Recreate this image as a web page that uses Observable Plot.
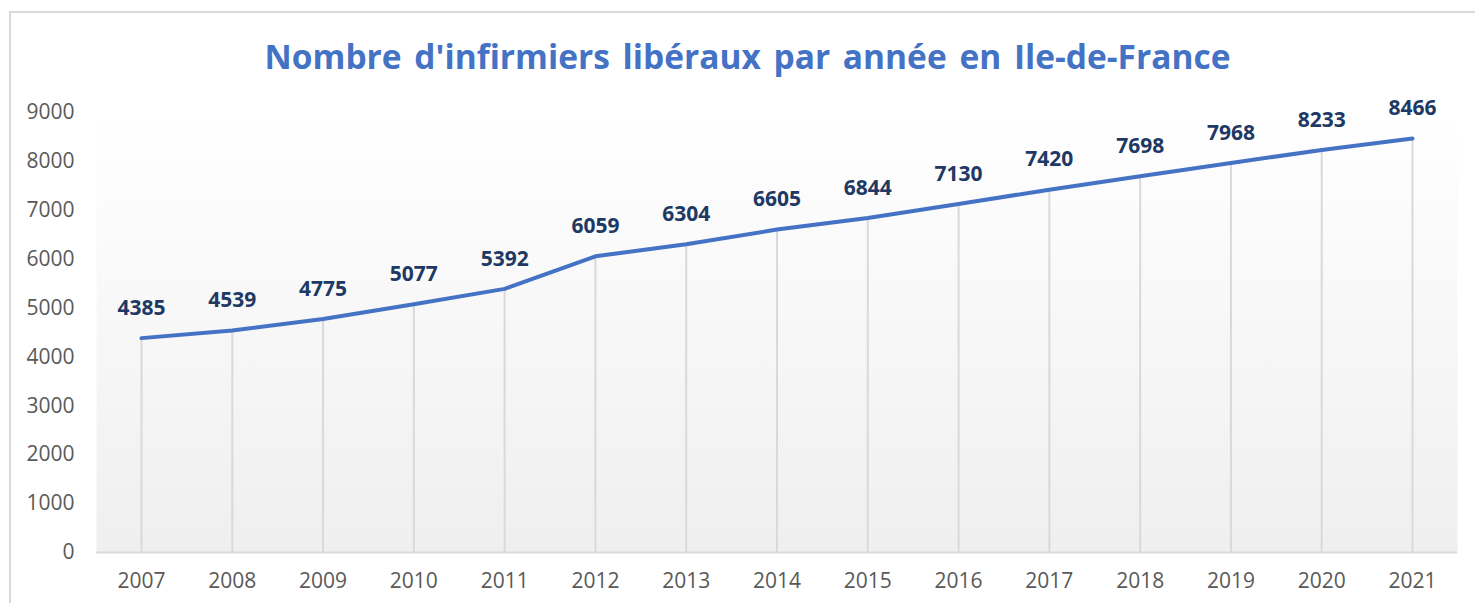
<!DOCTYPE html>
<html>
<head>
<meta charset="utf-8">
<script src="https://cdn.jsdelivr.net/npm/d3@7"></script>
<script src="https://cdn.jsdelivr.net/npm/@observablehq/plot@0.6"></script>
<style>
  html, body { margin: 0; padding: 0; background: #fff; }
  #wrap { position: relative; width: 1475px; height: 603px; overflow: hidden; }
  #border { position: absolute; left: 9px; top: 11px; width: 1500px; height: 700px; border: 2px solid #d9d9d9; box-sizing: border-box; }
  #title { position: absolute; left: 0; top: 33px; width: 1495px; text-align: center;
           font-family: "Open Sans", sans-serif; font-weight: 700; font-size: 33.5px; color: #4472C4; word-spacing: 4px; }
  #chart { position: absolute; left: 0; top: 0; }
</style>
</head>
<body>
<div id="wrap">
  <div id="border"></div>
  <div id="chart"></div>
  <div id="title">Nombre d'infirmiers libéraux par année en Ile-de-France</div>
</div>
<script>
const years = [2007, 2008, 2009, 2010, 2011, 2012, 2013, 2014, 2015, 2016, 2017, 2018, 2019, 2020, 2021];
const counts = [4385, 4539, 4775, 5077, 5392, 6059, 6304, 6605, 6844, 7130, 7420, 7698, 7968, 8233, 8466];
const yTicks = [0, 1000, 2000, 3000, 4000, 5000, 6000, 7000, 8000, 9000];

const data = years.map((y, i) => ({year: String(y), value: counts[i]}));

const chart = Plot.plot({
  width: 1475,
  height: 603,
  marginTop: 112,
  marginBottom: 51,
  marginLeft: 96,
  marginRight: 18,
  style: {fontFamily: "'Open Sans', sans-serif", fontSize: "21px", color: "#595959", background: "transparent"},
  x: {type: "point", domain: years.map(String), range: [141, 1412], padding: 0, round: false, label: null},
  y: {domain: [0, 9000], ticks: yTicks, label: null},
  marks: [
    Plot.frame({fill: "url(#bggrad)", stroke: null}),
    Plot.ruleX(data, {x: "year", y1: 0, y2: "value", stroke: "#d9d9d9", strokeWidth: 2}),
    Plot.ruleY([0], {stroke: "#d9d9d9", strokeWidth: 2}),
    Plot.line(data, {x: "year", y: "value", stroke: "#4472C4", strokeWidth: 4, strokeLinecap: "round", strokeLinejoin: "round"}),
    Plot.text(data, {x: "year", y: "value", text: d => String(d.value), dy: -30, fill: "#203864", fontWeight: "bold", fontSize: 21}),
    Plot.axisY({ticks: yTicks, tickSize: 0, tickPadding: 22, tickFormat: d => String(d), fontSize: 21, fill: "#595959"}),
    Plot.axisX({tickSize: 0, tickPadding: 21, fontSize: 21, fill: "#595959"})
  ]
});

const ns = "http://www.w3.org/2000/svg";
const defs = document.createElementNS(ns, "defs");
defs.innerHTML = '<linearGradient id="bggrad" x1="0" y1="0" x2="0" y2="1"><stop offset="0" stop-color="#ffffff"/><stop offset="1" stop-color="#efefef"/></linearGradient>';
chart.insertBefore(defs, chart.firstChild);
document.getElementById("chart").appendChild(chart);
</script>
</body>
</html>
